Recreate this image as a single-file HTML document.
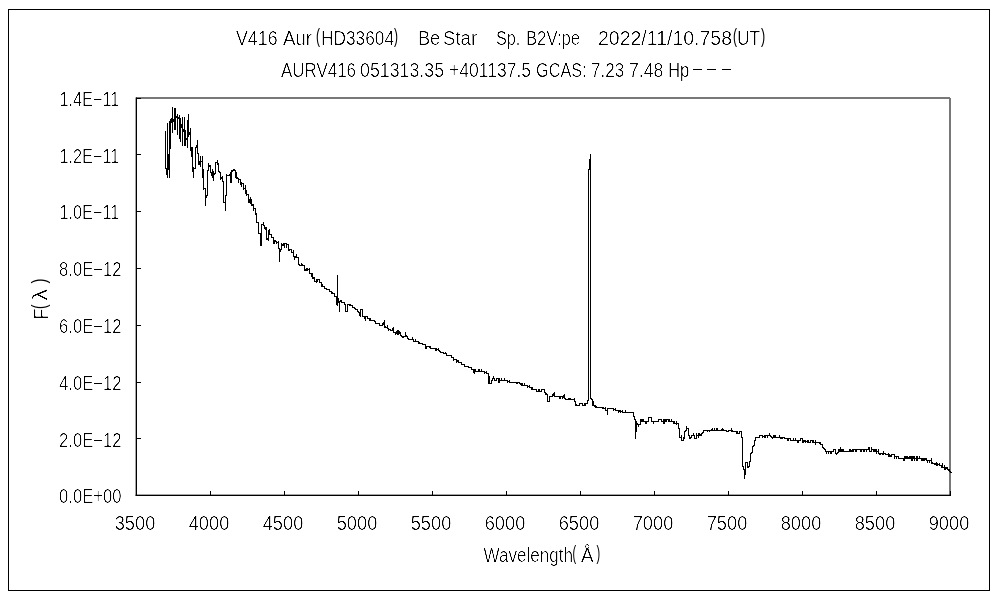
<!DOCTYPE html>
<html><head><meta charset="utf-8"><title>V416 Aur spectrum</title>
<style>
html,body{margin:0;padding:0;background:#fff;}
body{width:1000px;height:600px;overflow:hidden;font-family:"Liberation Sans",sans-serif;}
svg{display:block;will-change:transform;}
</style></head><body>
<svg width="1000" height="600" viewBox="0 0 1000 600">
<defs><filter id="crisp" x="0" y="0" width="1000" height="600" filterUnits="userSpaceOnUse" color-interpolation-filters="sRGB"><feComponentTransfer><feFuncA type="table" tableValues="0 0 0 0 0 0.05 0.15 0.4 0.75 1 1"/></feComponentTransfer></filter></defs>
<rect x="0" y="0" width="1000" height="600" fill="#fff"/>
<rect x="8.5" y="9.5" width="981" height="581" fill="#fff" stroke="#000" stroke-width="1"/>
<rect x="136" y="97" width="814" height="2" fill="#787878"/>
<rect x="949" y="98" width="2" height="398" fill="#787878"/>
<rect x="135.65" y="97.5" width="1.35" height="398.5" fill="#000"/>
<rect x="135.65" y="494.65" width="815.35" height="1.35" fill="#000"/>
<path d="M136.5 491V495M210.5 491V495M284.5 491V495M358.5 491V495M432.5 491V495M506.5 491V495M580.5 491V495M654.5 491V495M728.5 491V495M802.5 491V495M876.5 491V495M950.5 491V495M137 495.5H141M137 438.5H141M137 382.5H141M137 325.5H141M137 268.5H141M137 211.5H141M137 154.5H141M137 98.5H141" stroke="#000" stroke-width="1" fill="none" shape-rendering="crispEdges"/>
<path d="M165.5 131V169M166.5 168V175M167.5 123V178M168.5 154V170M169.5 121V178M170.5 119V149M171.5 118V123M172.5 107V133M173.5 119V122M174.5 108V130M175.5 108V130M176.5 116V118M177.5 114V135M178.5 117V119M179.5 115V139M180.5 118V142M181.5 124V128M182.5 117V146M183.5 129V132M184.5 117V146M185.5 130V146M186.5 138V140M187.5 120V148M188.5 114V137M189.5 132V135M190.5 128V151M191.5 147V157M192.5 147V172M193.5 167V178M194.5 168V169M195.5 147V169M196.5 145V148M197.5 140V154M198.5 153V165M199.5 161V165M200.5 156V167M201.5 161V162M202.5 156V178M203.5 169V190M204.5 188V189M205.5 188V206M206.5 195V198M207.5 170V196M208.5 163V171M209.5 165V167M210.5 165V173M211.5 172V176M212.5 169V178M213.5 171V181M214.5 173V175M215.5 162V174M216.5 162V163M217.5 160V165M218.5 163V172M219.5 171V173M220.5 172V180M221.5 177V179M222.5 176V182M223.5 181V203M224.5 202V203M225.5 195V211M226.5 174V196M227.5 175V176M228.5 175V176M229.5 174V176M230.5 172V183M231.5 170V183M232.5 170V172M233.5 169V171M234.5 169V171M235.5 170V178M236.5 172V179M237.5 177V179M238.5 178V183M239.5 179V180M240.5 179V185M241.5 182V187M242.5 183V184M243.5 183V190M244.5 188V189M245.5 185V194M246.5 190V196M247.5 194V195M248.5 194V203M249.5 199V203M250.5 197V204M251.5 199V206M252.5 204V206M253.5 204V211M254.5 208V209M255.5 208V215M256.5 213V223M257.5 222V223M258.5 222V234M259.5 233V234M260.5 233V246M261.5 224V246M262.5 224V225M263.5 222V226M264.5 225V229M265.5 227V230M266.5 227V240M267.5 238V240M268.5 230V241M269.5 229V235M270.5 234V235M271.5 234V238M272.5 237V238M273.5 237V244M274.5 240V244M275.5 240V242M276.5 241V244M277.5 242V243M278.5 241V249M279.5 248V262M280.5 249V252M281.5 243V250M282.5 244V246M283.5 243V246M284.5 243V248M285.5 243V244M286.5 243V248M287.5 244V245M288.5 244V251M289.5 249V251M290.5 249V250M291.5 249V253M292.5 252V253M293.5 250V257M294.5 256V260M295.5 256V258M296.5 254V258M297.5 257V258M298.5 257V265M299.5 264V266M300.5 265V266M301.5 263V266M302.5 264V266M303.5 265V266M304.5 265V271M305.5 269V271M306.5 268V271M307.5 268V271M308.5 269V270M309.5 268V274M310.5 273V274M311.5 273V277M312.5 273V279M313.5 277V279M314.5 277V282M315.5 281V282M316.5 279V283M317.5 279V282M318.5 279V280M319.5 279V283M320.5 282V283M321.5 282V287M322.5 284V287M323.5 286V287M324.5 286V289M325.5 288V289M326.5 288V290M327.5 289V290M328.5 289V290M329.5 289V292M330.5 291V292M331.5 291V294M332.5 292V294M333.5 293V294M334.5 293V297M335.5 296V297M336.5 296V305M337.5 275V306M338.5 298V303M339.5 301V312M340.5 300V302M341.5 300V303M342.5 302V303M343.5 302V303M344.5 302V305M345.5 304V312M346.5 311V312M347.5 304V312M348.5 304V305M349.5 304V306M350.5 304V306M351.5 305V306M352.5 305V308M353.5 307V308M354.5 307V309M355.5 308V310M356.5 309V310M357.5 309V312M358.5 311V313M359.5 312V316M360.5 309V317M361.5 309V310M362.5 309V317M363.5 316V317M364.5 316V319M365.5 316V321M366.5 316V317M367.5 316V319M368.5 318V319M369.5 318V321M370.5 318V321M371.5 320V321M372.5 320V321M373.5 320V321M374.5 320V322M375.5 321V324M376.5 323V324M377.5 323V324M378.5 323V324M379.5 323V326M380.5 325V326M381.5 325V326M382.5 323V326M383.5 322V325M384.5 320V328M385.5 326V328M386.5 327V328M387.5 325V329M388.5 328V331M389.5 329V330M390.5 329V331M391.5 330V331M392.5 328V331M393.5 327V333M394.5 332V333M395.5 332V335M396.5 331V334M397.5 330V335M398.5 330V335M399.5 331V334M400.5 332V336M401.5 335V337M402.5 336V338M403.5 336V338M404.5 336V337M405.5 332V337M406.5 335V337M407.5 336V339M408.5 338V340M409.5 339V340M410.5 339V340M411.5 339V340M412.5 337V340M413.5 339V342M414.5 341V342M415.5 339V342M416.5 341V342M417.5 341V342M418.5 341V344M419.5 342V344M420.5 343V344M421.5 343V344M422.5 343V345M423.5 344V345M424.5 344V345M425.5 344V349M426.5 346V349M427.5 346V347M428.5 346V347M429.5 346V348M430.5 346V349M431.5 348V349M432.5 348V349M433.5 348V349M434.5 348V349M435.5 348V351M436.5 348V351M437.5 349V350M438.5 348V351M439.5 350V352M440.5 351V353M441.5 352V353M442.5 352V353M443.5 352V354M444.5 353V354M445.5 352V354M446.5 353V356M447.5 355V356M448.5 355V356M449.5 355V356M450.5 355V356M451.5 355V358M452.5 357V358M453.5 357V361M454.5 359V360M455.5 359V360M456.5 359V363M457.5 360V362M458.5 360V363M459.5 362V363M460.5 362V363M461.5 362V365M462.5 364V365M463.5 364V365M464.5 364V367M465.5 366V367M466.5 366V367M467.5 366V367M468.5 366V368M469.5 367V368M470.5 367V368M471.5 367V370M472.5 369V370M473.5 369V373M474.5 369V374M475.5 369V372M476.5 371V372M477.5 371V372M478.5 369V372M479.5 369V372M480.5 371V372M481.5 369V372M482.5 371V372M483.5 371V372M484.5 371V374M485.5 372V373M486.5 371V374M487.5 373V374M488.5 373V384M489.5 376V384M490.5 383V384M491.5 380V384M492.5 378V381M493.5 376V379M494.5 378V381M495.5 380V381M496.5 378V381M497.5 378V379M498.5 378V383M499.5 378V383M500.5 380V381M501.5 378V381M502.5 380V381M503.5 380V381M504.5 378V381M505.5 380V381M506.5 380V381M507.5 380V383M508.5 381V382M509.5 380V383M510.5 382V383M511.5 382V383M512.5 382V383M513.5 382V383M514.5 382V383M515.5 382V383M516.5 382V384M517.5 382V384M518.5 382V383M519.5 382V384M520.5 383V385M521.5 383V386M522.5 383V386M523.5 385V386M524.5 383V386M525.5 385V386M526.5 385V386M527.5 385V388M528.5 386V387M529.5 385V388M530.5 387V388M531.5 387V390M532.5 387V390M533.5 389V390M534.5 389V390M535.5 389V390M536.5 389V392M537.5 391V392M538.5 389V392M539.5 389V392M540.5 391V392M541.5 389V392M542.5 389V390M543.5 389V390M544.5 389V393M545.5 392V395M546.5 393V395M547.5 394V402M548.5 401V402M549.5 396V402M550.5 396V397M551.5 396V397M552.5 394V397M553.5 393V396M554.5 392V397M555.5 396V397M556.5 396V397M557.5 396V397M558.5 396V397M559.5 396V399M560.5 396V399M561.5 396V397M562.5 396V399M563.5 395V398M564.5 394V399M565.5 398V400M566.5 399V400M567.5 399V400M568.5 398V400M569.5 398V400M570.5 398V400M571.5 399V400M572.5 399V400M573.5 399V400M574.5 398V402M575.5 401V406M576.5 404V406M577.5 405V406M578.5 405V406M579.5 403V406M580.5 403V404M581.5 403V404M582.5 403V406M583.5 405V406M584.5 403V406M585.5 403V406M586.5 403V404M587.5 400V404M588.5 169V401M589.5 159V170M590.5 154V399M591.5 398V400M592.5 399V406M593.5 401V406M594.5 405V407M595.5 405V408M596.5 406V408M597.5 407V408M598.5 407V408M599.5 407V408M600.5 407V408M601.5 407V408M602.5 407V409M603.5 407V409M604.5 408V409M605.5 407V411M606.5 410V411M607.5 408V415M608.5 408V409M609.5 408V409M610.5 408V409M611.5 408V409M612.5 408V409M613.5 408V411M614.5 409V410M615.5 408V411M616.5 410V411M617.5 410V411M618.5 410V413M619.5 410V412M620.5 410V413M621.5 411V412M622.5 410V413M623.5 412V413M624.5 412V413M625.5 410V413M626.5 412V413M627.5 412V413M628.5 412V413M629.5 412V413M630.5 412V413M631.5 412V413M632.5 412V413M633.5 412V417M634.5 416V420M635.5 419V439M636.5 421V432M637.5 423V425M638.5 424V427M639.5 424V425M640.5 419V425M641.5 419V422M642.5 419V422M643.5 419V422M644.5 421V422M645.5 421V424M646.5 421V424M647.5 421V422M648.5 417V422M649.5 417V418M650.5 417V418M651.5 417V422M652.5 421V422M653.5 421V424M654.5 421V422M655.5 421V422M656.5 421V422M657.5 421V422M658.5 419V422M659.5 419V420M660.5 419V420M661.5 419V422M662.5 421V422M663.5 419V424M664.5 419V424M665.5 419V422M666.5 419V422M667.5 419V420M668.5 419V422M669.5 419V422M670.5 421V422M671.5 419V422M672.5 421V422M673.5 421V424M674.5 421V424M675.5 423V424M676.5 421V425M677.5 423V424M678.5 423V429M679.5 428V438M680.5 437V438M681.5 435V441M682.5 440V441M683.5 437V441M684.5 431V439M685.5 430V432M686.5 426V431M687.5 428V429M688.5 428V436M689.5 435V439M690.5 437V439M691.5 435V438M692.5 435V436M693.5 433V436M694.5 435V439M695.5 438V439M696.5 433V439M697.5 435V436M698.5 433V438M699.5 433V436M700.5 434V436M701.5 433V436M702.5 432V434M703.5 430V433M704.5 430V431M705.5 430V431M706.5 430V431M707.5 430V432M708.5 430V431M709.5 430V432M710.5 430V431M711.5 429V431M712.5 428V431M713.5 430V431M714.5 428V431M715.5 430V431M716.5 428V431M717.5 428V431M718.5 430V431M719.5 430V431M720.5 430V431M721.5 429V431M722.5 428V431M723.5 429V431M724.5 430V431M725.5 430V431M726.5 430V432M727.5 431V432M728.5 430V432M729.5 430V431M730.5 430V431M731.5 428V432M732.5 430V432M733.5 431V432M734.5 431V432M735.5 431V432M736.5 431V434M737.5 431V434M738.5 433V434M739.5 431V434M740.5 431V432M741.5 431V438M742.5 437V467M743.5 466V470M744.5 469V479M745.5 462V475M746.5 462V463M747.5 462V468M748.5 466V468M749.5 461V467M750.5 453V462M751.5 452V454M752.5 446V453M753.5 445V447M754.5 440V446M755.5 437V441M756.5 437V438M757.5 437V438M758.5 437V438M759.5 435V438M760.5 435V436M761.5 435V436M762.5 435V438M763.5 436V437M764.5 435V438M765.5 435V438M766.5 435V436M767.5 435V438M768.5 435V436M769.5 433V436M770.5 435V437M771.5 436V438M772.5 437V439M773.5 435V438M774.5 435V438M775.5 435V438M776.5 437V438M777.5 437V438M778.5 437V438M779.5 435V438M780.5 437V439M781.5 437V439M782.5 437V439M783.5 437V438M784.5 437V439M785.5 438V439M786.5 438V439M787.5 438V441M788.5 438V441M789.5 438V439M790.5 438V441M791.5 440V441M792.5 440V441M793.5 438V441M794.5 440V441M795.5 438V441M796.5 440V441M797.5 440V443M798.5 440V443M799.5 440V441M800.5 438V441M801.5 438V439M802.5 438V443M803.5 440V443M804.5 440V442M805.5 440V443M806.5 441V442M807.5 440V443M808.5 440V443M809.5 442V443M810.5 440V443M811.5 440V441M812.5 440V443M813.5 440V443M814.5 442V443M815.5 440V445M816.5 442V443M817.5 442V443M818.5 442V443M819.5 442V444M820.5 442V445M821.5 444V445M822.5 444V448M823.5 447V449M824.5 448V450M825.5 449V452M826.5 451V454M827.5 451V452M828.5 451V454M829.5 451V452M830.5 451V454M831.5 451V454M832.5 451V452M833.5 449V452M834.5 449V450M835.5 449V454M836.5 453V455M837.5 452V454M838.5 449V453M839.5 449V452M840.5 447V452M841.5 449V452M842.5 449V452M843.5 449V452M844.5 451V452M845.5 451V452M846.5 451V452M847.5 451V452M848.5 451V452M849.5 449V452M850.5 449V452M851.5 450V452M852.5 449V452M853.5 449V452M854.5 449V450M855.5 449V452M856.5 449V452M857.5 449V450M858.5 449V450M859.5 449V450M860.5 449V452M861.5 449V452M862.5 449V450M863.5 449V452M864.5 449V452M865.5 449V450M866.5 449V452M867.5 449V450M868.5 447V450M869.5 447V452M870.5 451V452M871.5 447V452M872.5 449V450M873.5 449V452M874.5 449V452M875.5 449V452M876.5 449V454M877.5 451V452M878.5 449V454M879.5 453V455M880.5 453V455M881.5 453V454M882.5 453V455M883.5 451V455M884.5 453V454M885.5 453V455M886.5 454V455M887.5 454V455M888.5 453V457M889.5 454V457M890.5 455V457M891.5 454V457M892.5 454V455M893.5 454V455M894.5 454V459M895.5 456V457M896.5 456V459M897.5 456V457M898.5 456V459M899.5 458V459M900.5 458V459M901.5 458V459M902.5 458V459M903.5 458V461M904.5 456V461M905.5 456V459M906.5 456V459M907.5 456V459M908.5 457V459M909.5 456V459M910.5 456V459M911.5 456V461M912.5 456V461M913.5 456V459M914.5 456V461M915.5 458V459M916.5 456V461M917.5 456V461M918.5 458V459M919.5 456V459M920.5 458V459M921.5 458V461M922.5 458V461M923.5 458V461M924.5 458V461M925.5 458V460M926.5 458V461M927.5 460V463M928.5 460V461M929.5 460V463M930.5 460V461M931.5 458V464M932.5 462V464M933.5 463V464M934.5 463V465M935.5 463V465M936.5 462V466M937.5 463V466M938.5 464V465M939.5 463V466M940.5 465V466M941.5 465V468M942.5 463V468M943.5 467V468M944.5 465V470M945.5 467V470M946.5 467V469M947.5 467V470M948.5 469V471M949.5 469V472M950.5 471V473M951.5 472V473" stroke="#000" stroke-width="1" fill="none" shape-rendering="crispEdges"/>
<path d="M693 69.5H702M707 69.5H716M722 69.5H731" stroke="#000" stroke-width="1" fill="none" shape-rendering="crispEdges"/>
<g font-family="'Liberation Sans', sans-serif" fill="#000" filter="url(#crisp)"><text x="236.0" y="44.5" font-size="19.5" textLength="41.55" lengthAdjust="spacingAndGlyphs">V416</text><text x="283.0" y="44.5" font-size="19.5" textLength="29.04" lengthAdjust="spacingAndGlyphs">Aur</text><text x="321.0" y="44.5" font-size="19.5" textLength="73.06" lengthAdjust="spacingAndGlyphs">HD33604</text><text x="418.0" y="44.5" font-size="19.5" textLength="22.22" lengthAdjust="spacingAndGlyphs">Be</text><text x="443.0" y="44.5" font-size="19.5" textLength="34.18" lengthAdjust="spacingAndGlyphs">Star</text><text x="496.0" y="44.5" font-size="19.5" textLength="24.35" lengthAdjust="spacingAndGlyphs">Sp.</text><text x="526.0" y="44.5" font-size="19.5" textLength="54.08" lengthAdjust="spacingAndGlyphs">B2V:pe</text><text x="598.0" y="44.5" font-size="19.5" textLength="134.05" lengthAdjust="spacingAndGlyphs">2022/11/10.758</text><text x="737.0" y="44.5" font-size="19.5" textLength="23.21" lengthAdjust="spacingAndGlyphs">UT</text><text x="281.0" y="76.5" font-size="19.5" textLength="75.04" lengthAdjust="spacingAndGlyphs">AURV416</text><text x="360.0" y="76.5" font-size="19.5" textLength="84.05" lengthAdjust="spacingAndGlyphs">051313.35</text><text x="449.0" y="76.5" font-size="19.5" textLength="82.05" lengthAdjust="spacingAndGlyphs">+401137.5</text><text x="536.0" y="76.5" font-size="19.5" textLength="50.59" lengthAdjust="spacingAndGlyphs">GCAS:</text><text x="591.0" y="76.5" font-size="19.5" textLength="33.24" lengthAdjust="spacingAndGlyphs">7.23</text><text x="629.0" y="76.5" font-size="19.5" textLength="34.23" lengthAdjust="spacingAndGlyphs">7.48</text><text x="668.0" y="76.5" font-size="19.5" textLength="21.47" lengthAdjust="spacingAndGlyphs">Hp</text><text x="59.0" y="502.8" font-size="19.5" textLength="62.6" lengthAdjust="spacingAndGlyphs">0.0E+00</text><text x="59.0" y="447" font-size="19.5" textLength="62.6" lengthAdjust="spacingAndGlyphs">2.0E−12</text><text x="59.0" y="390.2" font-size="19.5" textLength="62.6" lengthAdjust="spacingAndGlyphs">4.0E−12</text><text x="59.0" y="332.7" font-size="19.5" textLength="62.6" lengthAdjust="spacingAndGlyphs">6.0E−12</text><text x="59.0" y="275.8" font-size="19.5" textLength="62.6" lengthAdjust="spacingAndGlyphs">8.0E−12</text><text x="59.6" y="218.7" font-size="19.5" textLength="59.6" lengthAdjust="spacingAndGlyphs">1.0E−11</text><text x="59.6" y="162.8" font-size="19.5" textLength="59.6" lengthAdjust="spacingAndGlyphs">1.2E−11</text><text x="59.6" y="105.8" font-size="19.5" textLength="59.6" lengthAdjust="spacingAndGlyphs">1.4E−11</text><text x="114.7" y="529.7" font-size="19.5" textLength="40.6" lengthAdjust="spacingAndGlyphs">3500</text><text x="188.7" y="529.7" font-size="19.5" textLength="40.6" lengthAdjust="spacingAndGlyphs">4000</text><text x="262.7" y="529.7" font-size="19.5" textLength="40.6" lengthAdjust="spacingAndGlyphs">4500</text><text x="336.7" y="529.7" font-size="19.5" textLength="40.6" lengthAdjust="spacingAndGlyphs">5000</text><text x="410.7" y="529.7" font-size="19.5" textLength="40.6" lengthAdjust="spacingAndGlyphs">5500</text><text x="484.7" y="529.7" font-size="19.5" textLength="40.6" lengthAdjust="spacingAndGlyphs">6000</text><text x="558.7" y="529.7" font-size="19.5" textLength="40.6" lengthAdjust="spacingAndGlyphs">6500</text><text x="632.7" y="529.7" font-size="19.5" textLength="40.6" lengthAdjust="spacingAndGlyphs">7000</text><text x="706.7" y="529.7" font-size="19.5" textLength="40.6" lengthAdjust="spacingAndGlyphs">7500</text><text x="780.7" y="529.7" font-size="19.5" textLength="40.6" lengthAdjust="spacingAndGlyphs">8000</text><text x="854.7" y="529.7" font-size="19.5" textLength="40.6" lengthAdjust="spacingAndGlyphs">8500</text><text x="928.7" y="529.7" font-size="19.5" textLength="40.6" lengthAdjust="spacingAndGlyphs">9000</text><text x="483.5" y="561.9" font-size="19.5" textLength="89.54" lengthAdjust="spacingAndGlyphs">Wavelength</text><text x="581.0" y="561.9" font-size="19.5" textLength="12.55" lengthAdjust="spacingAndGlyphs">Å</text><g transform="translate(48 319) rotate(-90)"><text x="-0.5" y="0" font-size="19.5" textLength="11.0" lengthAdjust="spacingAndGlyphs">F</text><text x="18.5" y="-0.7" font-size="19.5" textLength="11.5" lengthAdjust="spacingAndGlyphs">λ</text></g></g>
<g font-family="'Liberation Sans', sans-serif" fill="#000"><text x="316.0" y="42.5" font-size="19.5" textLength="4.0" lengthAdjust="spacingAndGlyphs">(</text><text x="394.0" y="42.5" font-size="19.5" textLength="4.0" lengthAdjust="spacingAndGlyphs">)</text><text x="733.0" y="42.5" font-size="19.5" textLength="4.0" lengthAdjust="spacingAndGlyphs">(</text><text x="761.0" y="42.5" font-size="19.5" textLength="4.21" lengthAdjust="spacingAndGlyphs">)</text><text x="572.5" y="559.9" font-size="19.5" textLength="3.65" lengthAdjust="spacingAndGlyphs">(</text><text x="596.5" y="559.9" font-size="19.5" textLength="3.65" lengthAdjust="spacingAndGlyphs">)</text><g transform="translate(48 319) rotate(-90)"><text x="10" y="-2" font-size="19.5" textLength="4.5" lengthAdjust="spacingAndGlyphs">(</text><text x="35.5" y="-2" font-size="19.5" textLength="5.0" lengthAdjust="spacingAndGlyphs">)</text></g></g>
</svg>
</body></html>
